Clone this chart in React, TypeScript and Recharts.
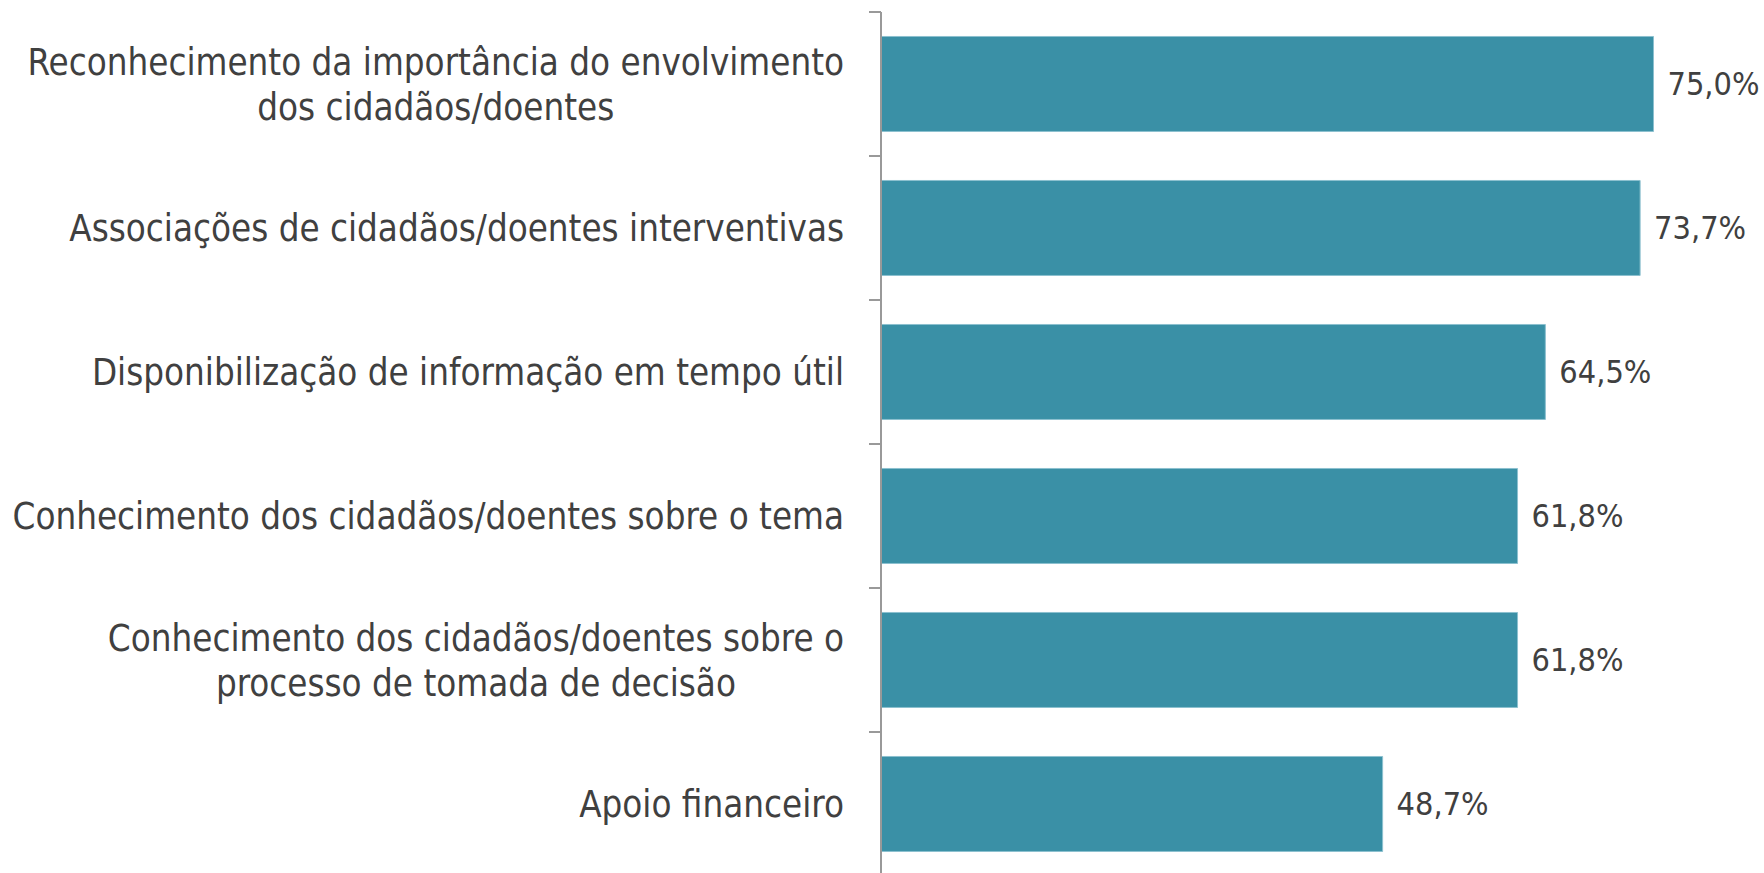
import React from "react";
import { BarChart, Bar, XAxis, YAxis, LabelList } from "recharts";

const categories = [
  "Reconhecimento da importância do envolvimento\ndos cidadãos/doentes",
  "Associações de cidadãos/doentes interventivas",
  "Disponibilização de informação em tempo útil",
  "Conhecimento dos cidadãos/doentes sobre o tema",
  "Conhecimento dos cidadãos/doentes sobre o\nprocesso de tomada de decisão",
  "Apoio financeiro",
];
const values = [75.0, 73.7, 64.5, 61.8, 61.8, 48.7];

const data = categories.map((c, i) => ({ name: c, value: values[i] }));

const FONT = "'DejaVu Sans Condensed', 'DejaVu Sans', sans-serif";
const LABEL_SIZE = 36.4;
const TEXT = "#404040";
const AXIS = "#999999";

let measureCtx: CanvasRenderingContext2D | null = null;
const measure = (s: string) => {
  if (!measureCtx && typeof document !== "undefined") {
    measureCtx = document.createElement("canvas").getContext("2d");
  }
  if (!measureCtx) return s.length * LABEL_SIZE * 0.5;
  measureCtx.font = `${LABEL_SIZE}px ${FONT}`;
  return measureCtx.measureText(s).width;
};

const CategoryTick = (props: any) => {
  const { x, y, payload } = props;
  const half = payload && payload.offset ? payload.offset : 72;
  const lines = String(payload.value).split("\n");
  const lh = 45;
  const startY = y - ((lines.length - 1) * lh) / 2;
  const right = x - 29;
  const multi = lines.length > 1;
  const maxW = multi ? Math.max(...lines.map(measure)) : 0;
  const cx = right - maxW / 2;
  return (
    <g>
      <line x1={x - 4} x2={x + 8} y1={y - half} y2={y - half} stroke={AXIS} strokeWidth={2} />
      <text
        x={multi ? cx : right}
        y={startY}
        textAnchor={multi ? "middle" : "end"}
        dominantBaseline="central"
        fontFamily={FONT}
        fontSize={LABEL_SIZE}
        fill={TEXT}
      >
        {lines.map((l, i) => (
          <tspan key={i} x={multi ? cx : right} y={startY + i * lh}>
            {l}
          </tspan>
        ))}
      </text>
    </g>
  );
};

const fmt = (v: any) => Number(v).toFixed(1).replace(".", ",") + "%";

export default function App() {
  return (
    <div style={{ position: "absolute", left: 0, top: 0, width: 1764, height: 873, overflow: "hidden", background: "#fff" }}>
      <BarChart
        width={1764}
        height={880}
        data={data}
        layout="vertical"
        margin={{ top: 12, right: 59, bottom: 4, left: 0 }}
        barCategoryGap="17%"
      >
        <XAxis type="number" domain={[0, 80]} hide />
        <YAxis
          type="category"
          dataKey="name"
          width={881}
          axisLine={{ stroke: AXIS, strokeWidth: 2 }}
          tickLine={false}
          tick={<CategoryTick />}
          interval={0}
        />
        <Bar dataKey="value" fill="#3A90A6" stroke="#8cc0cf" strokeWidth={1} isAnimationActive={false}>
          <LabelList
            dataKey="value"
            position="right"
            offset={14}
            formatter={fmt}
            fill={TEXT}
            fontSize={32.2}
            fontFamily={FONT}
          />
        </Bar>
      </BarChart>
    </div>
  );
}
